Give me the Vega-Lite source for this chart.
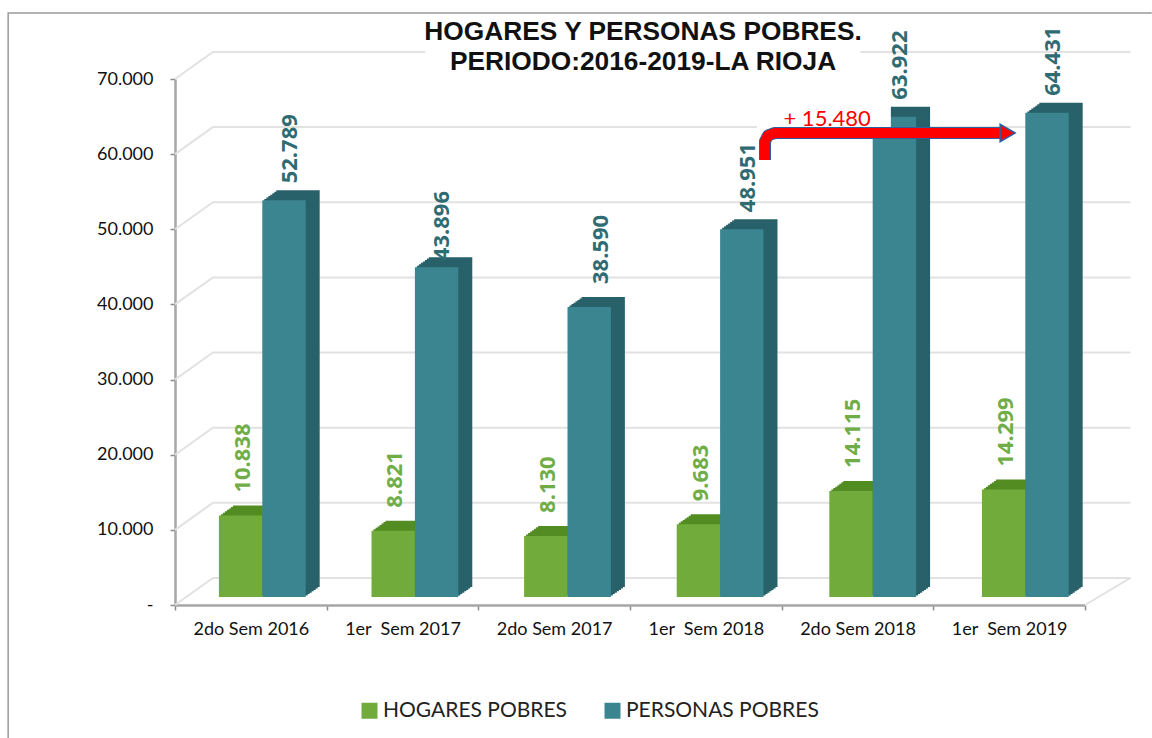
{
"$schema":"https://vega.github.io/schema/vega-lite/v6.json",
"width":910,"height":526,
"autosize":{"type":"none"},
"padding":{"left":175,"top":79,"right":67,"bottom":133},
"background":"white",
"config":{"view":{"stroke":null}},
"datasets":{
"bars":[
{"c":"2do Sem 2016","s":"HOGARES POBRES","v":10838},{"c":"2do Sem 2016","s":"PERSONAS POBRES","v":52789},
{"c":"1er\u00a0 Sem 2017","s":"HOGARES POBRES","v":8821},{"c":"1er\u00a0 Sem 2017","s":"PERSONAS POBRES","v":43896},
{"c":"2do Sem 2017","s":"HOGARES POBRES","v":8130},{"c":"2do Sem 2017","s":"PERSONAS POBRES","v":38590},
{"c":"1er\u00a0 Sem 2018","s":"HOGARES POBRES","v":9683},{"c":"1er\u00a0 Sem 2018","s":"PERSONAS POBRES","v":48951},
{"c":"2do Sem 2018","s":"HOGARES POBRES","v":14115},{"c":"2do Sem 2018","s":"PERSONAS POBRES","v":63922},
{"c":"1er\u00a0 Sem 2019","s":"HOGARES POBRES","v":14299},{"c":"1er\u00a0 Sem 2019","s":"PERSONAS POBRES","v":64431}],
"grid":[
{"g":"0","p":0,"y":0},{"g":"0","p":0.25,"y":3600},{"g":"0","p":6.3,"y":3600},{"g":"0b","p":6,"y":0},{"g":"0b","p":6.3,"y":3600},
{"g":"10","p":0,"y":10000},{"g":"10","p":0.25,"y":13600},{"g":"10","p":6.3,"y":13600},
{"g":"20","p":0,"y":20000},{"g":"20","p":0.25,"y":23600},{"g":"20","p":6.3,"y":23600},
{"g":"30","p":0,"y":30000},{"g":"30","p":0.25,"y":33600},{"g":"30","p":6.3,"y":33600},
{"g":"40","p":0,"y":40000},{"g":"40","p":0.25,"y":43600},{"g":"40","p":6.3,"y":43600},
{"g":"50","p":0,"y":50000},{"g":"50","p":0.25,"y":53600},{"g":"50","p":6.3,"y":53600},
{"g":"60","p":0,"y":60000},{"g":"60","p":0.25,"y":63600},{"g":"60","p":6.3,"y":63600},
{"g":"70","p":0,"y":70000},{"g":"70","p":0.25,"y":73600},{"g":"70","p":1.65,"y":73600},
{"g":"71","p":4.52,"y":73600},{"g":"71","p":6.3,"y":73600}],
"frame":[{"o":1,"p":-1.1,"y":-17700},{"o":2,"p":-1.1,"y":78780},{"o":3,"p":6.44,"y":78780}],
"arrow":[{"o":1,"p":3.89,"y":59220},{"o":2,"p":3.89,"y":61700},{"o":3,"p":3.91,"y":62500},{"o":4,"p":3.955,"y":62815},{"o":5,"p":5.465,"y":62815}],
"titleRows":[{"p":3.086,"y":76260,"t":"HOGARES Y PERSONAS POBRES."},{"p":3.086,"y":72270,"t":"PERIODO:2016-2019-LA RIOJA"}]
},
"data":{"name":"bars"},
"resolve":{"scale":{"x":"independent","y":"independent","xOffset":"independent"}},
"layer":[
{"data":{"name":"frame"},"mark":{"type":"line","color":"#9a9a9a","strokeWidth":1.5,"clip":false},
 "encoding":{"x":{"field":"p","type":"quantitative","scale":{"domain":[0,6],"nice":false,"zero":false},"axis":null},"y":{"field":"y","type":"quantitative","axis":null,"scale":{"domain":[0,70000],"nice":false}},"order":{"field":"o"}}},
{"data":{"name":"grid"},"mark":{"type":"line","color":"#e2e2e2","strokeWidth":2,"clip":false},
 "encoding":{"x":{"field":"p","type":"quantitative","scale":{"domain":[0,6],"nice":false,"zero":false},"axis":null},"y":{"field":"y","type":"quantitative","axis":null,"scale":{"domain":[0,70000],"nice":false}},"detail":{"field":"g"}}},
{"mark":{"type":"bar","opacity":0},
 "encoding":{"x":{"field":"c","type":"nominal","sort":null,"scale":{"paddingInner":0,"paddingOuter":0},"title":null,
   "axis":{"tickBand":"extent","labelAngle":0,"labelFont":"Lato","labelFontSize":18,"labelColor":"#111111","labelPadding":10,"domainColor":"#a6a6a6","domainWidth":2.5,"tickColor":"#8c8c8c","tickSize":5,"tickWidth":1.5,"grid":false}},
  "y":{"field":"v","type":"quantitative","stack":null,"title":null,"scale":{"domain":[0,70000],"nice":false},
   "axis":{"values":[0,10000,20000,30000,40000,50000,60000,70000],"grid":false,"labelFont":"Lato","labelFontSize":18,"labelColor":"#111111","labelPadding":17,"domainColor":"#a6a6a6","domainWidth":2.5,"tickColor":"#8c8c8c","tickSize":5,"tickWidth":1.5,"labelExpr":"datum.value===0?'-\u00a0\u00a0\u00a0':replace(format(datum.value,','),',','.')"}}}},
{"mark":{"type":"bar"},"encoding":{"x":{"field":"c","type":"nominal","sort":null,"axis":null,"scale":{"paddingInner":0,"paddingOuter":0,"range":[25,940.6]}},"xOffset":{"field":"s","scale":{"paddingInner":0,"paddingOuter":0.7586}},"y":{"field":"v","type":"quantitative","stack":null,"axis":null,"scale":{"domain":[0,70000],"nice":false,"range":[508,-18]}},"fill":{"condition":{"test":"datum.s==='HOGARES POBRES'","value":"#528c22"},"value":"#28616a"}}},
{"mark":{"type":"bar"},"encoding":{"x":{"field":"c","type":"nominal","sort":null,"axis":null,"scale":{"paddingInner":0,"paddingOuter":0,"range":[23,938.6]}},"xOffset":{"field":"s","scale":{"paddingInner":0,"paddingOuter":0.7586}},"y":{"field":"v","type":"quantitative","stack":null,"axis":null,"scale":{"domain":[0,70000],"nice":false,"range":[509.4,-16.6]}},"fill":{"condition":{"test":"datum.s==='HOGARES POBRES'","value":"#528c22"},"value":"#28616a"}}},
{"mark":{"type":"bar"},"encoding":{"x":{"field":"c","type":"nominal","sort":null,"axis":null,"scale":{"paddingInner":0,"paddingOuter":0,"range":[21,936.6]}},"xOffset":{"field":"s","scale":{"paddingInner":0,"paddingOuter":0.7586}},"y":{"field":"v","type":"quantitative","stack":null,"axis":null,"scale":{"domain":[0,70000],"nice":false,"range":[510.9,-15.1]}},"fill":{"condition":{"test":"datum.s==='HOGARES POBRES'","value":"#528c22"},"value":"#28616a"}}},
{"mark":{"type":"bar"},"encoding":{"x":{"field":"c","type":"nominal","sort":null,"axis":null,"scale":{"paddingInner":0,"paddingOuter":0,"range":[19,934.6]}},"xOffset":{"field":"s","scale":{"paddingInner":0,"paddingOuter":0.7586}},"y":{"field":"v","type":"quantitative","stack":null,"axis":null,"scale":{"domain":[0,70000],"nice":false,"range":[512.3,-13.7]}},"fill":{"condition":{"test":"datum.s==='HOGARES POBRES'","value":"#528c22"},"value":"#28616a"}}},
{"mark":{"type":"bar"},"encoding":{"x":{"field":"c","type":"nominal","sort":null,"axis":null,"scale":{"paddingInner":0,"paddingOuter":0,"range":[17,932.6]}},"xOffset":{"field":"s","scale":{"paddingInner":0,"paddingOuter":0.7586}},"y":{"field":"v","type":"quantitative","stack":null,"axis":null,"scale":{"domain":[0,70000],"nice":false,"range":[513.7,-12.3]}},"fill":{"condition":{"test":"datum.s==='HOGARES POBRES'","value":"#528c22"},"value":"#28616a"}}},
{"mark":{"type":"bar"},"encoding":{"x":{"field":"c","type":"nominal","sort":null,"axis":null,"scale":{"paddingInner":0,"paddingOuter":0,"range":[15,930.6]}},"xOffset":{"field":"s","scale":{"paddingInner":0,"paddingOuter":0.7586}},"y":{"field":"v","type":"quantitative","stack":null,"axis":null,"scale":{"domain":[0,70000],"nice":false,"range":[515.1,-10.9]}},"fill":{"condition":{"test":"datum.s==='HOGARES POBRES'","value":"#528c22"},"value":"#28616a"}}},
{"mark":{"type":"bar"},"encoding":{"x":{"field":"c","type":"nominal","sort":null,"axis":null,"scale":{"paddingInner":0,"paddingOuter":0,"range":[13,928.6]}},"xOffset":{"field":"s","scale":{"paddingInner":0,"paddingOuter":0.7586}},"y":{"field":"v","type":"quantitative","stack":null,"axis":null,"scale":{"domain":[0,70000],"nice":false,"range":[516.6,-9.4]}},"fill":{"condition":{"test":"datum.s==='HOGARES POBRES'","value":"#528c22"},"value":"#28616a"}}},
{"mark":{"type":"bar"},
 "encoding":{"x":{"field":"c","type":"nominal","sort":null,"axis":null,"scale":{"paddingInner":0,"paddingOuter":0,"range":[11,926.6]}},
  "xOffset":{"field":"s","scale":{"paddingInner":0,"paddingOuter":0.7586}},
  "y":{"field":"v","type":"quantitative","stack":null,"axis":null,"scale":{"domain":[0,70000],"nice":false,"range":[518,-8]}},
  "color":{"field":"s","type":"nominal","title":null,"scale":{"domain":["HOGARES POBRES","PERSONAS POBRES"],"range":["#70ab3c","#3b8591"]},
   "legend":{"orient":"none","legendX":184,"legendY":621,"direction":"horizontal","columns":2,"columnPadding":34,"symbolType":"square","symbolSize":256,"symbolStrokeWidth":0,"labelFont":"Lato","labelFontSize":21,"labelColor":"#222222","labelOffset":3,"labelLimit":400}}}},
{"data":{"values":[{"a":3.837,"b":4.72,"y":62815,"y2":68540}]},"mark":{"type":"rect","fill":"white"},
 "encoding":{"x":{"field":"a","type":"quantitative","scale":{"domain":[0,6],"nice":false,"zero":false},"axis":null},"x2":{"field":"b"},"y":{"field":"y","type":"quantitative","axis":null,"scale":{"domain":[0,70000],"nice":false}},"y2":{"field":"y2"}}},
{"data":{"name":"arrow"},"mark":{"type":"line","color":"#2f5f9e","strokeWidth":12,"strokeCap":"butt","strokeJoin":"round"},
 "encoding":{"x":{"field":"p","type":"quantitative","scale":{"domain":[0,6],"nice":false,"zero":false},"axis":null},"y":{"field":"y","type":"quantitative","axis":null,"scale":{"domain":[0,70000],"nice":false}},"order":{"field":"o"}}},
{"data":{"name":"arrow"},"mark":{"type":"line","color":"#ff0000","strokeWidth":10,"strokeCap":"butt","strokeJoin":"round"},
 "encoding":{"x":{"field":"p","type":"quantitative","scale":{"domain":[0,6],"nice":false,"zero":false},"axis":null},"y":{"field":"y","type":"quantitative","axis":null,"scale":{"domain":[0,70000],"nice":false}},"order":{"field":"o"}}},
{"data":{"values":[{"p":5.49,"y":62815}]},"mark":{"type":"point","shape":"triangle-right","filled":true,"fill":"#ff0000","stroke":"#2f5f9e","strokeWidth":1.5,"opacity":1,"size":300},
 "encoding":{"x":{"field":"p","type":"quantitative","scale":{"domain":[0,6],"nice":false,"zero":false},"axis":null},"y":{"field":"y","type":"quantitative","axis":null,"scale":{"domain":[0,70000],"nice":false}}}},
{"data":{"values":[{"p":4.3,"y":64650,"t":"+ 15.480"}]},"mark":{"type":"text","font":"Lato","fontSize":22,"color":"#ff0000"},
 "encoding":{"x":{"field":"p","type":"quantitative","scale":{"domain":[0,6],"nice":false,"zero":false},"axis":null},"y":{"field":"y","type":"quantitative","axis":null,"scale":{"domain":[0,70000],"nice":false}},"text":{"field":"t"}}},
{"data":{"name":"titleRows"},"mark":{"type":"text","font":"Liberation Sans","fontWeight":"bold","fontSize":26.3,"color":"#111111"},
 "encoding":{"x":{"field":"p","type":"quantitative","scale":{"domain":[0,6],"nice":false,"zero":false},"axis":null},"y":{"field":"y","type":"quantitative","axis":null,"scale":{"domain":[0,70000],"nice":false}},"text":{"field":"t"}}},
{"transform":[{"filter":"datum.s==='PERSONAS POBRES' && datum.v!==43896 && datum.v!==38590"},{"calculate":"replace(format(datum.v,','),',','.')","as":"t"}],
 "mark":{"type":"text","angle":270,"align":"left","baseline":"middle","font":"Open Sans","fontWeight":"bold","fontSize":22,"color":"#2f6b72"},
 "encoding":{"x":{"field":"c","type":"ordinal","scale":{"domain":["2do Sem 2016","1er\u00a0 Sem 2017","2do Sem 2017","1er\u00a0 Sem 2018","2do Sem 2018","1er\u00a0 Sem 2019"],"paddingInner":0,"paddingOuter":0,"range":[38.5,954.1]},"axis":null},"y":{"field":"v","type":"quantitative","stack":null,"axis":null,"scale":{"domain":[0,70000],"nice":false,"range":[501,-25]}},"text":{"field":"t"}}},
{"transform":[{"filter":"datum.v===43896"},{"calculate":"replace(format(datum.v,','),',','.')","as":"t"}],
 "mark":{"type":"text","angle":270,"align":"left","baseline":"middle","font":"Open Sans","fontWeight":"bold","fontSize":22,"color":"#2f6b72"},
 "encoding":{"x":{"field":"c","type":"ordinal","scale":{"domain":["2do Sem 2016","1er\u00a0 Sem 2017","2do Sem 2017","1er\u00a0 Sem 2018","2do Sem 2018","1er\u00a0 Sem 2019"],"paddingInner":0,"paddingOuter":0,"range":[38.5,954.1]},"axis":null},"y":{"field":"v","type":"quantitative","stack":null,"axis":null,"scale":{"domain":[0,70000],"nice":false,"range":[511,-15]}},"text":{"field":"t"}}},
{"transform":[{"filter":"datum.v===38590"},{"calculate":"replace(format(datum.v,','),',','.')","as":"t"}],
 "mark":{"type":"text","angle":270,"align":"left","baseline":"middle","font":"Open Sans","fontWeight":"bold","fontSize":22,"color":"#2f6b72"},
 "encoding":{"x":{"field":"c","type":"ordinal","scale":{"domain":["2do Sem 2016","1er\u00a0 Sem 2017","2do Sem 2017","1er\u00a0 Sem 2018","2do Sem 2018","1er\u00a0 Sem 2019"],"paddingInner":0,"paddingOuter":0,"range":[44,959.6]},"axis":null},"y":{"field":"v","type":"quantitative","stack":null,"axis":null,"scale":{"domain":[0,70000],"nice":false,"range":[495,-31]}},"text":{"field":"t"}}},
{"transform":[{"filter":"datum.s==='HOGARES POBRES'"},{"calculate":"replace(format(datum.v,','),',','.')","as":"t"}],
 "mark":{"type":"text","angle":270,"align":"left","baseline":"middle","font":"Open Sans","fontWeight":"bold","fontSize":22,"color":"#70ad47"},
 "encoding":{"x":{"field":"c","type":"ordinal","scale":{"domain":["2do Sem 2016","1er\u00a0 Sem 2017","2do Sem 2017","1er\u00a0 Sem 2018","2do Sem 2018","1er\u00a0 Sem 2019"],"paddingInner":0,"paddingOuter":0,"range":[-8.5,907.1]},"axis":null},"y":{"field":"v","type":"quantitative","stack":null,"axis":null,"scale":{"domain":[0,70000],"nice":false,"range":[495,-31]}},"text":{"field":"t"}}}
]
}
